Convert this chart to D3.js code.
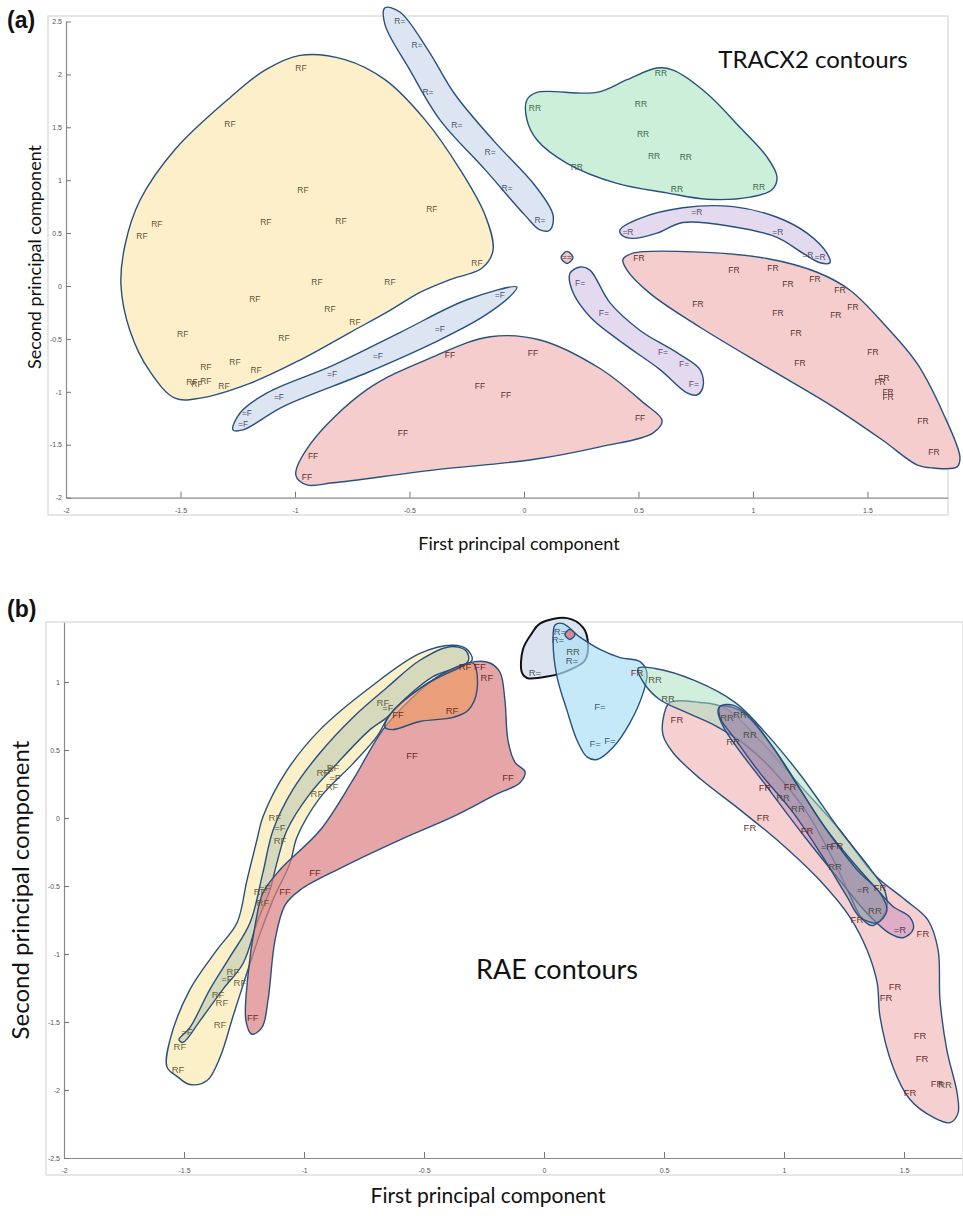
<!DOCTYPE html>
<html><head><meta charset="utf-8">
<script src="https://cdn.jsdelivr.net/npm/d3@7"></script>
<style>body{margin:0;background:#fff}</style>
</head><body>
<svg id="c" width="963" height="1216"></svg>
<script>
// ---------- Panel (a) axes ----------
const xTicksA = [-2,-1.5,-1,-0.5,0,0.5,1,1.5];
const yTicksA = [-2,-1.5,-1,-0.5,0,0.5,1,1.5,2,2.5];
// ---------- Panel (a) contours (data coords) ----------
const aRF = [[-0.978,2.18],[-0.782,2.14],[-0.607,1.95],[-0.432,1.57],[-0.279,1.10],[-0.170,0.67],[-0.135,0.34],[-0.183,0.17],[-0.323,0.06],[-0.454,-0.06],[-0.585,-0.23],[-0.760,-0.44],[-0.978,-0.70],[-1.197,-0.92],[-1.415,-1.06],[-1.524,-1.06],[-1.633,-0.81],[-1.721,-0.42],[-1.760,0.01],[-1.742,0.39],[-1.677,0.81],[-1.524,1.29],[-1.284,1.78],[-1.131,2.04]];
const aRFlab = [[-0.974,2.06],[-1.284,1.53],[-0.965,0.91],[-1.603,0.59],[-1.668,0.47],[-1.127,0.60],[-0.799,0.61],[-0.402,0.73],[-0.205,0.22],[-0.904,0.04],[-0.585,0.04],[-1.175,-0.12],[-0.847,-0.22],[-0.738,-0.34],[-1.048,-0.49],[-1.490,-0.45],[-1.262,-0.72],[-1.389,-0.77],[-1.170,-0.79],[-1.450,-0.91],[-1.428,-0.93],[-1.389,-0.90],[-1.310,-0.95]];
const aReq = [[-0.607,2.63],[-0.542,2.59],[-0.419,2.23],[-0.301,1.81],[-0.127,1.36],[0.048,0.95],[0.127,0.67],[0.114,0.53],[0.070,0.53],[0.004,0.67],[-0.170,1.10],[-0.367,1.57],[-0.498,2.04],[-0.607,2.47]];
const aReqlab = [[-0.542,2.50],[-0.467,2.28],[-0.419,1.83],[-0.293,1.52],[-0.148,1.27],[-0.074,0.93],[0.070,0.62]];
const aeqF = [[-0.031,-0.01],[-0.249,-0.13],[-0.542,-0.44],[-0.834,-0.75],[-1.122,-1.01],[-1.240,-1.20],[-1.271,-1.36],[-1.227,-1.36],[-1.052,-1.14],[-0.686,-0.82],[-0.397,-0.54],[-0.179,-0.29],[-0.048,-0.07]];
const aeqFlab = [[-0.105,-0.09],[-0.367,-0.41],[-0.638,-0.66],[-0.838,-0.83],[-1.070,-1.05],[-1.210,-1.20],[-1.227,-1.30]];
const aFF = [[-0.996,-1.79],[-0.935,-1.50],[-0.686,-0.98],[-0.397,-0.67],[-0.148,-0.48],[0.070,-0.51],[0.332,-0.78],[0.520,-1.10],[0.603,-1.27],[0.563,-1.39],[0.332,-1.52],[0.039,-1.64],[-0.397,-1.74],[-0.834,-1.86],[-0.948,-1.88]];
const aFFlab = [[-0.323,-0.65],[-0.192,-0.95],[-0.079,-1.03],[-0.528,-1.39],[-0.921,-1.61],[-0.948,-1.81],[0.039,-0.63],[0.507,-1.25]];
const aRR = [[0.013,1.76],[0.057,1.83],[0.319,1.83],[0.450,1.95],[0.581,2.06],[0.651,2.04],[0.799,1.82],[0.943,1.50],[1.061,1.22],[1.105,1.03],[1.083,0.91],[0.987,0.84],[0.799,0.82],[0.624,0.88],[0.406,0.97],[0.188,1.16],[0.057,1.38],[0.013,1.57]];
const aRRlab = [[0.598,2.01],[0.048,1.68],[0.511,1.72],[0.520,1.44],[0.568,1.23],[0.707,1.22],[0.231,1.12],[0.668,0.92],[1.026,0.94]];
const aeqR = [[0.419,0.53],[0.507,0.64],[0.694,0.74],[0.913,0.75],[1.105,0.65],[1.236,0.50],[1.323,0.31],[1.336,0.22],[1.293,0.22],[1.218,0.31],[1.105,0.46],[0.913,0.56],[0.694,0.60],[0.581,0.50],[0.476,0.45],[0.428,0.48]];
const aeqRlab = [[0.755,0.70],[0.454,0.51],[1.109,0.51],[1.240,0.29],[1.293,0.27]];
const aEqEq = [[0.214,0.27],[0.188,0.327],[0.162,0.27],[0.188,0.213]];
const aEqEqlab = [[0.188,0.27]];
const aFeq = [[0.245,0.18],[0.288,0.15],[0.376,-0.16],[0.507,-0.42],[0.668,-0.63],[0.769,-0.79],[0.782,-0.95],[0.755,-1.03],[0.712,-1.01],[0.594,-0.79],[0.432,-0.54],[0.288,-0.29],[0.210,-0.04],[0.201,0.12]];
const aFeqlab = [[0.245,0.03],[0.349,-0.26],[0.607,-0.62],[0.699,-0.74],[0.742,-0.93]];
const aFR = [[0.432,0.25],[0.476,0.31],[0.769,0.32],[1.061,0.26],[1.280,0.13],[1.424,-0.04],[1.568,-0.35],[1.716,-0.73],[1.830,-1.20],[1.904,-1.62],[1.891,-1.71],[1.786,-1.72],[1.716,-1.69],[1.568,-1.46],[1.349,-1.14],[1.061,-0.77],[0.769,-0.39],[0.550,-0.07],[0.450,0.15]];
const aFRlab = [[0.502,0.26],[0.917,0.15],[1.087,0.17],[1.153,0.02],[1.271,0.07],[1.380,-0.04],[0.760,-0.17],[1.109,-0.26],[1.362,-0.27],[1.437,-0.20],[1.188,-0.44],[1.524,-0.62],[1.205,-0.73],[1.572,-0.87],[1.555,-0.91],[1.590,-1.00],[1.590,-1.05],[1.742,-1.28],[1.790,-1.57]];

// ---------- Panel (b) axes ----------
const xTicksB = [-2,-1.5,-1,-0.5,0,0.5,1,1.5];
const yTicksB = [-2.5,-2,-1.5,-1,-0.5,0,0.5,1];
// ---------- Panel (b) contours ----------
const bRF = [[-0.379,1.27],[-0.321,1.24],[-0.300,1.16],[-0.433,1.05],[-0.558,0.90],[-0.642,0.76],[-0.696,0.60],[-0.796,0.40],[-0.933,0.15],[-1.029,-0.14],[-1.058,-0.33],[-1.129,-0.60],[-1.183,-0.85],[-1.238,-1.14],[-1.296,-1.46],[-1.350,-1.76],[-1.404,-1.93],[-1.475,-1.96],[-1.529,-1.90],[-1.571,-1.83],[-1.558,-1.63],[-1.475,-1.26],[-1.363,-0.97],[-1.279,-0.77],[-1.238,-0.46],[-1.196,-0.16],[-1.171,0.01],[-1.071,0.35],[-0.933,0.65],[-0.725,0.96],[-0.517,1.21]];
const bRFlab = [[-0.671,0.85],[-0.921,0.33],[-0.879,0.37],[-0.883,0.23],[-0.946,0.18],[-1.121,0.00],[-1.100,-0.17],[-1.183,-0.54],[-1.171,-0.62],[-1.296,-1.13],[-1.267,-1.21],[-1.358,-1.30],[-1.342,-1.36],[-1.350,-1.52],[-1.517,-1.68],[-1.525,-1.85]];
const beqF = [[-0.392,1.26],[-0.325,1.23],[-0.317,1.15],[-0.463,1.04],[-0.571,0.89],[-0.654,0.74],[-0.725,0.65],[-0.863,0.40],[-0.975,0.18],[-1.071,-0.09],[-1.113,-0.33],[-1.142,-0.53],[-1.196,-0.77],[-1.254,-1.07],[-1.338,-1.26],[-1.433,-1.49],[-1.504,-1.65],[-1.521,-1.63],[-1.475,-1.54],[-1.392,-1.26],[-1.308,-1.02],[-1.225,-0.77],[-1.171,-0.40],[-1.129,-0.09],[-1.046,0.21],[-0.933,0.48],[-0.796,0.74],[-0.654,0.96],[-0.517,1.16]];
const beqFlab = [[-0.650,0.81],[-0.900,0.35],[-0.871,0.30],[-1.100,-0.07],[-1.163,-0.51],[-1.321,-1.18],[-1.488,-1.57]];
const bFF = [[-0.288,1.15],[-0.225,1.14],[-0.183,1.07],[-0.163,0.87],[-0.150,0.57],[-0.121,0.41],[-0.079,0.34],[-0.100,0.26],[-0.204,0.17],[-0.379,0.01],[-0.600,-0.16],[-0.850,-0.37],[-1.017,-0.53],[-1.079,-0.64],[-1.121,-0.90],[-1.150,-1.34],[-1.175,-1.54],[-1.217,-1.59],[-1.242,-1.49],[-1.233,-1.15],[-1.204,-0.79],[-1.171,-0.55],[-1.100,-0.38],[-0.933,-0.09],[-0.796,0.28],[-0.671,0.65],[-0.558,0.87],[-0.433,1.05]];
const bFFlab = [[-0.550,0.46],[-0.150,0.30],[-0.954,-0.40],[-1.079,-0.54],[-1.213,-1.47],[-0.267,1.11],[-0.608,0.76]];
const bRF2 = [[-0.296,1.14],[-0.279,0.94],[-0.317,0.79],[-0.379,0.74],[-0.517,0.71],[-0.633,0.65],[-0.663,0.67],[-0.633,0.78],[-0.558,0.90],[-0.475,1.00],[-0.371,1.09]];
const bRF2lab = [[-0.238,1.03],[-0.383,0.79],[-0.329,1.11]];
const bReq = [[-0.017,1.43],[0.096,1.47],[0.163,1.40],[0.183,1.29],[0.171,1.16],[0.108,1.09],[0.013,1.04],[-0.071,1.03],[-0.092,1.07],[-0.088,1.24],[-0.050,1.36]];
const bReqlab = [[-0.038,1.07],[0.058,1.31],[0.117,1.16],[0.067,1.37]];
const bFeq = [[0.046,1.42],[0.079,1.43],[0.150,1.33],[0.233,1.24],[0.317,1.18],[0.400,1.15],[0.429,1.07],[0.413,0.92],[0.358,0.70],[0.288,0.52],[0.221,0.43],[0.179,0.45],[0.138,0.57],[0.096,0.79],[0.054,1.04],[0.038,1.29]];
const bFeqlab = [[0.233,0.82],[0.213,0.55],[0.275,0.57]];
const bEqEq = [[0.129,1.35],[0.108,1.387],[0.087,1.35],[0.108,1.313]];
const bRR = [[0.392,1.10],[0.463,1.10],[0.629,1.01],[0.796,0.85],[0.921,0.63],[1.067,0.32],[1.233,-0.09],[1.358,-0.37],[1.421,-0.54],[1.425,-0.68],[1.371,-0.79],[1.325,-0.74],[1.275,-0.57],[1.192,-0.26],[1.088,0.06],[0.954,0.35],[0.838,0.54],[0.713,0.68],[0.588,0.78],[0.483,0.87],[0.421,0.98]];
const bRRlab = [[0.463,1.02],[0.517,0.88],[0.763,0.74],[0.817,0.76],[0.788,0.56],[0.858,0.61],[0.996,0.15],[1.058,0.07],[1.213,-0.36],[1.379,-0.68],[1.671,-1.96],[0.121,1.22]];
const bFR = [[0.525,0.85],[0.650,0.85],[0.754,0.81],[0.900,0.57],[1.067,0.24],[1.233,-0.09],[1.379,-0.42],[1.504,-0.60],[1.600,-0.75],[1.642,-0.97],[1.650,-1.34],[1.679,-1.71],[1.721,-2.02],[1.725,-2.17],[1.692,-2.24],[1.621,-2.20],[1.525,-2.07],[1.454,-1.83],[1.400,-1.46],[1.388,-1.21],[1.346,-0.97],[1.275,-0.73],[1.150,-0.46],[0.983,-0.18],[0.817,0.06],[0.650,0.29],[0.538,0.48],[0.496,0.61],[0.500,0.76]];
const bFRlab = [[0.388,1.07],[0.554,0.72],[0.921,0.22],[0.913,0.00],[0.858,-0.07],[1.025,0.23],[1.096,-0.09],[1.221,-0.20],[1.400,-0.51],[1.304,-0.75],[1.579,-0.85],[1.463,-1.24],[1.425,-1.32],[1.567,-1.60],[1.575,-1.77],[1.638,-1.95],[1.525,-2.02]];
const bGray = [[0.733,0.82],[0.788,0.83],[0.858,0.74],[0.954,0.52],[1.067,0.21],[1.179,-0.09],[1.304,-0.38],[1.400,-0.55],[1.429,-0.68],[1.388,-0.77],[1.317,-0.73],[1.263,-0.58],[1.163,-0.29],[1.038,0.04],[0.900,0.33],[0.788,0.60],[0.733,0.74]];
const beqR = [[0.733,0.82],[0.817,0.79],[0.954,0.52],[1.179,-0.09],[1.400,-0.55],[1.454,-0.65],[1.525,-0.73],[1.538,-0.82],[1.496,-0.88],[1.442,-0.85],[1.346,-0.70],[1.233,-0.46],[1.096,-0.16],[0.929,0.23],[0.754,0.65],[0.725,0.78]];
const beqRlab = [[1.179,-0.21],[1.329,-0.53],[1.483,-0.82]];

const svg = d3.select("#c");
const LBL = "'Liberation Sans', Arial, sans-serif";
const TTL = "Lato, 'Open Sans', sans-serif";

function panel(cfg){
  const g = svg.append("g");
  g.append("rect").attr("x",cfg.frame[0]).attr("y",cfg.frame[1]).attr("width",cfg.frame[2]).attr("height",cfg.frame[3])
   .attr("fill","none").attr("stroke","#d6d6d6").attr("stroke-width",1.2);
  const x = cfg.x, y = cfg.y;
  const ax = g.append("g").attr("transform",`translate(0,${y.range()[0]})`)
    .call(d3.axisBottom(x).tickValues(cfg.xt).tickSize(-6).tickSizeOuter(0).tickPadding(10).tickFormat(d=>String(d)));
  const ay = g.append("g").attr("transform",`translate(${x.range()[0]},0)`)
    .call(d3.axisLeft(y).tickValues(cfg.yt).tickSize(-5).tickSizeOuter(0).tickPadding(4).tickFormat(d=>String(d)));
  [ax,ay].forEach(a=>{
    a.selectAll("path").attr("stroke","#8a8a8a").attr("stroke-width",1.2);
    a.selectAll("line").attr("stroke","#777");
    a.selectAll("text").attr("fill","#555").style("font-size","7px").style("font-family",LBL);
  });
  const line = d3.line().x(d=>x(d[0])).y(d=>y(d[1])).curve(d3.curveCatmullRomClosed.alpha(0.5));
  cfg.shapes.forEach(s=>{
    if(s.pts){
      g.append("path").attr("d",line(s.pts)).attr("fill",s.fill).attr("fill-opacity",s.op==null?1:s.op)
        .attr("stroke",s.stroke||"#27507f").attr("stroke-width",s.sw||1.4);
    }
    if(s.labs){
      g.selectAll(null).data(s.labs).join("text")
        .attr("x",d=>x(d[0])).attr("y",d=>y(d[1])).attr("text-anchor","middle").attr("dy","0.35em")
        .attr("fill",s.tc).attr("fill-opacity",0.95).style("font-size",cfg.fs+"px").style("font-family",LBL)
        .text(s.text);
    }
  });
  return g;
}

// Panel (a)
const xA = d3.scaleLinear().domain([-2,1.85]).range([66,947.6]);
const yA = d3.scaleLinear().domain([-2,2.5]).range([497.6,21.5]);
panel({x:xA,y:yA,xt:xTicksA,yt:yTicksA,frame:[48,16,900,499],fs:8.5,shapes:[
  {pts:aRF,fill:"#fdefc9",labs:aRFlab,text:"RF",tc:"#4f4530"},
  {pts:aReq,fill:"#dce5f1",labs:aReqlab,text:"R=",tc:"#3a4a5c"},
  {pts:aeqF,fill:"#dce5f1",labs:aeqFlab,text:"=F",tc:"#3a4a5c"},
  {pts:aFF,fill:"#f4cdcc",labs:aFFlab,text:"FF",tc:"#4c2323"},
  {pts:aRR,fill:"#ccefd9",labs:aRRlab,text:"RR",tc:"#2f5a43"},
  {pts:aeqR,fill:"#e4daef",labs:aeqRlab,text:"=R",tc:"#4a3d62"},
  {pts:aEqEq,fill:"#f0c4c4",labs:aEqEqlab,text:"==",tc:"#4c2323"},
  {pts:aFeq,fill:"#e4daef",labs:aFeqlab,text:"F=",tc:"#4a3d62"},
  {pts:aFR,fill:"#f4cdcc",labs:aFRlab,text:"FR",tc:"#4c2323"}
]});

// Panel (b)
const xB = d3.scaleLinear().domain([-2,1.74]).range([64,961.6]);
const yB = d3.scaleLinear().domain([-2.5,1.44]).range([1158,622.2]);
panel({x:xB,y:yB,xt:xTicksB,yt:yTicksB,frame:[46,622,917,553],fs:9.5,shapes:[
  {pts:bRF,fill:"#fcedbf",op:0.85},
  {pts:beqF,fill:"#b7c6ae",op:0.55},
  {pts:bFF,fill:"#dc7f82",op:0.7},
  {pts:bRF2,fill:"#ee9a62",op:0.65},
  {labs:bRFlab,text:"RF",tc:"#5e5630"},
  {labs:beqFlab,text:"=F",tc:"#44513c"},
  {labs:bFFlab,text:"FF",tc:"#5e2222"},
  {labs:bRF2lab,text:"RF",tc:"#5e2222"},
  {pts:bReq,fill:"#dde4f0",stroke:"#111",sw:2},
  {pts:bFeq,fill:"#aee0f6",op:0.7},
  {pts:bEqEq,fill:"#d58a9a"},
  {labs:bReqlab,text:"R=",tc:"#3a4a5c"},
  {labs:bFeqlab,text:"F=",tc:"#34505e"},
  {pts:bFR,fill:"#f5cdcd",op:0.95},
  {pts:bRR,fill:"#a5e0bd",op:0.5},
  {pts:beqR,fill:"#c78ab9",op:0.5},
  {pts:bGray,fill:"#8c8aa2",op:0.55},
  {labs:bFRlab,text:"FR",tc:"#5e2222"},
  {labs:bRRlab,text:"RR",tc:"#3c4842"},
  {labs:beqRlab,text:"=R",tc:"#443553"}
]});

function txt(x,y,s,size,opts={}){
  const t = svg.append("text").attr("x",x).attr("y",y).text(s)
    .style("font-size",size+"px").style("font-family",opts.f||TTL).attr("fill","#111")
    .attr("text-anchor",opts.a||"middle");
  if(opts.w) t.style("font-weight",opts.w);
  if(opts.r) t.attr("transform",`rotate(-90,${x},${y})`);
  return t;
}
txt(7,28,"(a)",23,{a:"start",w:"bold",f:"'Liberation Sans',Arial,sans-serif"});
txt(7,617,"(b)",23,{a:"start",w:"bold",f:"'Liberation Sans',Arial,sans-serif"});
txt(41,257,"Second principal component",18,{r:true});
txt(519,550,"First principal component",18);
txt(813,68,"TRACX2 contours",24);
txt(29,890,"Second principal component",24,{r:true});
txt(488,1203,"First principal component",21);
txt(557,979,"RAE contours",27);
</script>
</body></html>
